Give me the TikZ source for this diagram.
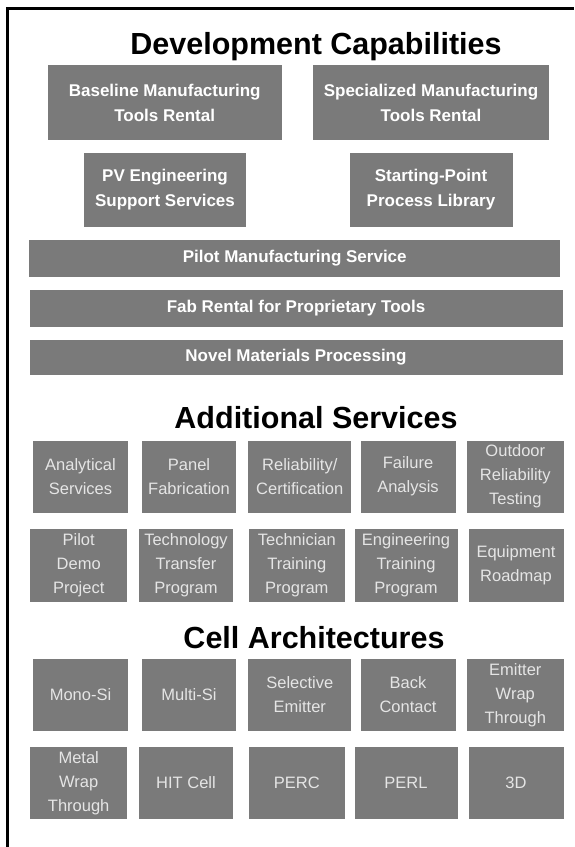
\documentclass[tikz,border=0pt]{standalone}
\usepackage{fontspec}
\setmainfont{Liberation Sans}
\usepackage{tikz}
\definecolor{tilegray}{gray}{0.48}
\definecolor{tiletext}{gray}{0.9}

\begin{document}
\begin{tikzpicture}[x=1pt,y=-1pt,%
		heading/.style={anchor=base,font=\bfseries\fontsize{30.5}{34}\selectfont},%
		capbox/.style={fill=tilegray,text=white,inner sep=0pt,align=center,%
			font=\bfseries\fontsize{17}{25}\selectfont},%
		wide/.style={capbox,minimum width=532pt,minimum height=36pt},%
		tile/.style={fill=tilegray,text=tiletext,inner sep=0pt,align=center,%
			minimum height=72pt,font=\fontsize{16.5}{24}\selectfont}]
		\useasboundingbox (0,0) rectangle (574,847);
		\draw[line width=2.5pt] (6,8.5) -- (574,8.5);
		\draw[line width=3pt] (7.5,7.5) -- (7.5,847);
		% development capabilities
		\node[heading] (devhead) at (316,54) {Development Capabilities};
		\node[capbox,minimum width=234pt,minimum height=75pt] (baseline) at (164.7,102.5) {Baseline Manufacturing\\Tools Rental};
		\node[capbox,minimum width=236pt,minimum height=75pt] (special) at (431,102.5) {Specialized Manufacturing\\Tools Rental};
		\node[capbox,minimum width=162pt,minimum height=74pt] (pveng) at (165,190) {PV Engineering\\Support Services};
		\node[capbox,minimum width=163pt,minimum height=74pt] (startpt) at (431,190) {Starting-Point\\Process Library};
		\node[wide,minimum width=531pt,minimum height=37pt] (pilotman) at (294.7,258.5) {Pilot Manufacturing Service};
		\node[wide,minimum width=533pt,minimum height=37pt] (fabrent) at (296,308.3) {Fab Rental for Proprietary Tools};
		\node[wide,minimum width=533pt,minimum height=35pt] (novel) at (296,357.5) {Novel Materials Processing};
		% additional services
		\node[heading] (addhead) at (316,428) {Additional Services};
		\node[tile,minimum width=95pt,minimum height=72pt] (analyt) at (80.5,476.7) {Analytical\\Services};
		\node[tile,minimum width=94pt,minimum height=72pt] (panel) at (189,476.7) {Panel\\Fabrication};
		\node[tile,minimum width=103pt,minimum height=72pt] (reliab) at (299.8,476.7) {Reliability/\\Certification};
		\node[tile,minimum width=95pt,minimum height=72pt] (failure) at (408,476.7) {Failure\\Analysis};
		\node[tile,minimum width=97pt,minimum height=72pt] (outdoor) at (515.3,476.7) {Outdoor\\Reliability\\Testing};
		\node[tile,minimum width=97pt,minimum height=73pt] (demo) at (78.7,565.5) {Pilot\\Demo\\Project};
		\node[tile,minimum width=94pt,minimum height=73pt] (transfer) at (186,565.5) {Technology\\Transfer\\Program};
		\node[tile,minimum width=96pt,minimum height=73pt] (techtrain) at (296.8,565.5) {Technician\\Training\\Program};
		\node[tile,minimum width=103pt,minimum height=73pt] (engtrain) at (406,565.5) {Engineering\\Training\\Program};
		\node[tile,minimum width=95pt,minimum height=73pt] (roadmap) at (516,565.5) {Equipment\\Roadmap};
		% cell architectures
		\node[heading] (cellhead) at (314,648) {Cell Architectures};
		\node[tile,minimum width=95pt] (monosi) at (80.5,695) {Mono-Si};
		\node[tile,minimum width=94pt] (multisi) at (189,695) {Multi-Si};
		\node[tile,minimum width=103pt] (selemit) at (299.8,695) {Selective\\Emitter};
		\node[tile,minimum width=95pt] (backcon) at (408,695) {Back\\Contact};
		\node[tile,minimum width=97pt] (ewt) at (515.3,695) {Emitter\\Wrap\\Through};
		\node[tile,minimum width=97pt] (mwt) at (78.7,783) {Metal\\Wrap\\Through};
		\node[tile,minimum width=94pt] (hit) at (186,783) {HIT Cell};
		\node[tile,minimum width=96pt] (perc) at (296.8,783) {PERC};
		\node[tile,minimum width=103pt] (perl) at (406,783) {PERL};
		\node[tile,minimum width=95pt] (threed) at (516,783) {3D};
	\end{tikzpicture}
\end{document}
